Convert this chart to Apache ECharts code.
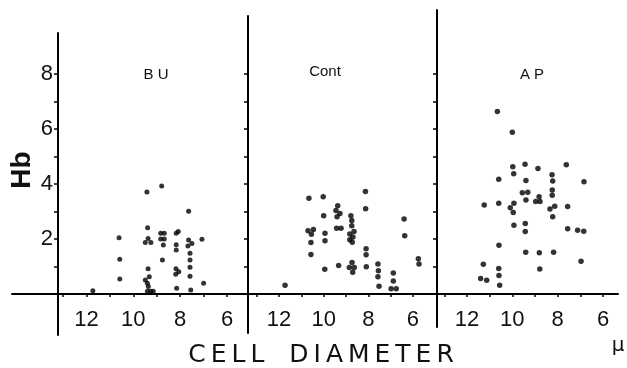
<!DOCTYPE html>
<html>
<head>
<meta charset="utf-8">
<script src="https://cdn.jsdelivr.net/npm/echarts@6/dist/echarts.min.js"></script>
<style>
  html, body { margin: 0; padding: 0; background: #fff; }
  #chart { width: 627px; height: 368px; }
</style>
</head>
<body>
<div id="chart"></div>
<script>
// cell diameter (micron) and Hb per cell
const buDiameter = [11.73, 10.61, 10.58, 10.58, 9.42, 9.39, 9.37, 9.49, 9.25, 9.37, 9.32, 9.49, 9.40, 9.36, 9.40, 9.26, 9.15,
  8.79, 8.83, 8.68, 8.83, 8.68, 8.72, 8.76, 8.17, 8.08, 8.17, 8.17, 8.18, 8.06, 8.19, 8.15,
  7.64, 7.64, 7.67, 7.50, 7.58, 7.58, 7.58, 7.58, 7.55, 7.07, 7.00];
const buHb = [0.12, 2.05, 1.26, 0.55, 3.71, 2.41, 2.02, 1.87, 1.87, 0.92, 0.63, 0.51, 0.39, 0.27, 0.10, 0.10, 0.10,
  3.93, 2.21, 2.21, 2.00, 2.00, 1.78, 1.24, 2.21, 2.27, 1.79, 1.60, 0.92, 0.81, 0.72, 0.21,
  3.01, 1.96, 1.75, 1.84, 1.48, 1.24, 0.97, 0.65, 0.15, 1.99, 0.39];

const contDiameter = [11.73, 10.66, 10.70, 10.46, 10.55, 10.57, 10.57, 10.02, 10.00, 9.94, 9.94, 9.95,
  9.37, 9.45, 9.27, 9.40, 9.42, 9.22, 9.33, 8.78, 8.74, 8.74, 8.64, 8.83, 8.69, 8.83, 8.72, 8.73, 8.85, 8.63, 8.70,
  8.13, 8.12, 8.10, 8.10, 8.09, 7.57, 7.55, 7.57, 7.52, 6.88, 6.88, 6.98, 6.75, 6.40, 6.37, 5.76, 5.73];
const contHb = [0.32, 3.48, 2.30, 2.35, 2.17, 1.87, 1.44, 3.54, 2.85, 2.21, 1.94, 0.90,
  3.21, 3.04, 2.93, 2.81, 2.39, 2.39, 1.04, 2.85, 2.67, 2.48, 2.27, 2.18, 2.07, 1.97, 1.88, 1.15, 0.96, 0.96, 0.79,
  3.73, 3.10, 1.65, 1.43, 0.99, 1.09, 0.85, 0.63, 0.28, 0.76, 0.47, 0.19, 0.19, 2.73, 2.12, 1.28, 1.09];

const apDiameter = [10.66, 10.00, 9.98, 9.44, 8.87, 7.62, 9.94, 8.25, 10.60, 9.40, 8.22, 6.84, 8.24, 9.56, 9.32, 8.82, 8.24,
  11.24, 10.60, 9.93, 10.09, 9.96, 9.40, 8.97, 8.78, 8.34, 8.13, 7.56, 8.22, 9.93, 9.43, 9.43, 7.56, 7.12, 6.85,
  10.59, 9.41, 8.81, 8.18, 11.28, 6.97, 10.60, 8.79, 10.59, 11.40, 11.13, 10.56];
const apHb = [6.64, 5.88, 4.63, 4.72, 4.56, 4.70, 4.37, 4.34, 4.17, 4.13, 4.11, 4.08, 3.78, 3.68, 3.70, 3.54, 3.59,
  3.24, 3.30, 3.30, 3.14, 2.96, 3.42, 3.36, 3.36, 3.09, 3.19, 3.18, 2.81, 2.50, 2.56, 2.27, 2.37, 2.32, 2.28,
  1.77, 1.52, 1.50, 1.52, 1.08, 1.19, 0.93, 0.91, 0.67, 0.56, 0.50, 0.32];

const panelNames = ['B U', 'Cont', 'A P'];
const xLabelValues = [12, 10, 8, 6];
const xTickValues = [6, 7, 8, 9, 10, 11, 12, 13];
const yLabelValues = [2, 4, 6, 8];
const yTickValues = [1, 2, 3, 4, 5, 6, 7, 8];

const baseY = 294;     // pixel row of Hb = 0
const pxPerHb = 27.5;
const narrow = "'Liberation Sans Narrow', 'Liberation Sans', sans-serif";

// pixel layout of each panel: where 12 sits, px per micron, grid span, y-axis position
const layout = [
  { px12: 86.5, unit: 23.42, left: 12, right: 237, axisX: 58, top: 33, bottom: 335, size: 5, titleX: 156, titleY: 75 },
  { px12: 279, unit: 22.33, left: 237, right: 437, axisX: 248, top: 16, bottom: 333, size: 5.5, titleX: 325, titleY: 72 },
  { px12: 467, unit: 22.67, left: 437, right: 618, axisX: 437, top: 10, bottom: 327, size: 5.5, titleX: 532, titleY: 75 },
];
const series = [[buDiameter, buHb], [contDiameter, contHb], [apDiameter, apHb]];

const grids = [], xAxes = [], yAxes = [], scatter = [], texts = [];
const axisColor = '#000';
layout.forEach((p, i) => {
  const xMax = 12 + (p.px12 - p.left) / p.unit;
  const xMin = 12 - (p.right - p.px12) / p.unit;
  grids.push({ left: p.left, top: p.top, width: p.right - p.left, height: baseY - p.top });
  xAxes.push({
    gridIndex: i, type: 'value', inverse: true, min: xMin, max: xMax, position: 'bottom',
    axisLine: { onZero: false, lineStyle: { color: axisColor, width: 2 } },
    axisTick: { show: true, length: 3, customValues: xTickValues.filter(v => v > xMin && v < xMax - 0.2), lineStyle: { color: axisColor, width: 1.5 } },
    axisLabel: { customValues: xLabelValues, color: '#111', fontSize: 22, fontFamily: narrow, margin: 15 },
    splitLine: { show: false },
  });
  yAxes.push({
    gridIndex: i, type: 'value', min: 0, max: (baseY - p.top) / pxPerHb,
    offset: -(p.axisX - p.left),
    axisLine: { onZero: false, lineStyle: { color: axisColor, width: 2 } },
    axisTick: { show: true, length: 4, customValues: yTickValues, lineStyle: { color: axisColor, width: 1.5 } },
    axisLabel: { show: i === 0, customValues: yLabelValues, color: '#111', fontSize: 22, fontFamily: narrow, margin: 5 },
    splitLine: { show: false },
  });
  scatter.push({
    type: 'scatter', xAxisIndex: i, yAxisIndex: i, symbolSize: p.size, clip: false,
    itemStyle: { color: '#000' }, silent: true,
    data: series[i][0].map((d, k) => [d, series[i][1][k]]),
  });
  texts.push({
    type: 'text', x: p.titleX, y: p.titleY,
    style: { text: panelNames[i], fill: '#111', font: "15px 'Liberation Sans', sans-serif", align: 'center', verticalAlign: 'middle' },
  });
});

// the y-axis lines run on below the baseline: a small empty grid under each panel
layout.forEach((p, i) => {
  const g = grids.length;
  grids.push({ left: p.left, top: baseY, width: p.right - p.left, height: p.bottom - baseY });
  xAxes.push({ gridIndex: g, type: 'value', show: false, min: 0, max: 1 });
  yAxes.push({
    gridIndex: g, type: 'value', min: 0, max: 1, offset: -(p.axisX - p.left),
    axisLine: { show: true, onZero: false, lineStyle: { color: axisColor, width: 2 } },
    axisTick: { show: false }, axisLabel: { show: false }, splitLine: { show: false },
  });
});

texts.push(
  { type: 'text', x: 22, y: 170, rotation: Math.PI / 2,
    style: { text: 'Hb', fill: '#111', font: "bold 28px 'Liberation Sans', sans-serif", align: 'center', verticalAlign: 'middle' } },
  { type: 'text', x: 321, y: 355,
    style: { text: 'C\u2009E\u2009L\u2009L\u2003D\u2009I\u2009A\u2009M\u2009E\u2009T\u2009E\u2009R', fill: '#111', font: "25px 'DejaVu Sans', sans-serif", align: 'center', verticalAlign: 'middle' } },
  { type: 'text', x: 618, y: 346,
    style: { text: 'μ', fill: '#111', font: "20px 'DejaVu Sans', sans-serif", align: 'center', verticalAlign: 'middle' } }
);

const chart = echarts.init(document.getElementById('chart'), null, { renderer: 'canvas' });
chart.setOption({
  animation: false,
  backgroundColor: '#fff',
  grid: grids,
  xAxis: xAxes,
  yAxis: yAxes,
  series: scatter,
  graphic: texts,
});
</script>
</body>
</html>
